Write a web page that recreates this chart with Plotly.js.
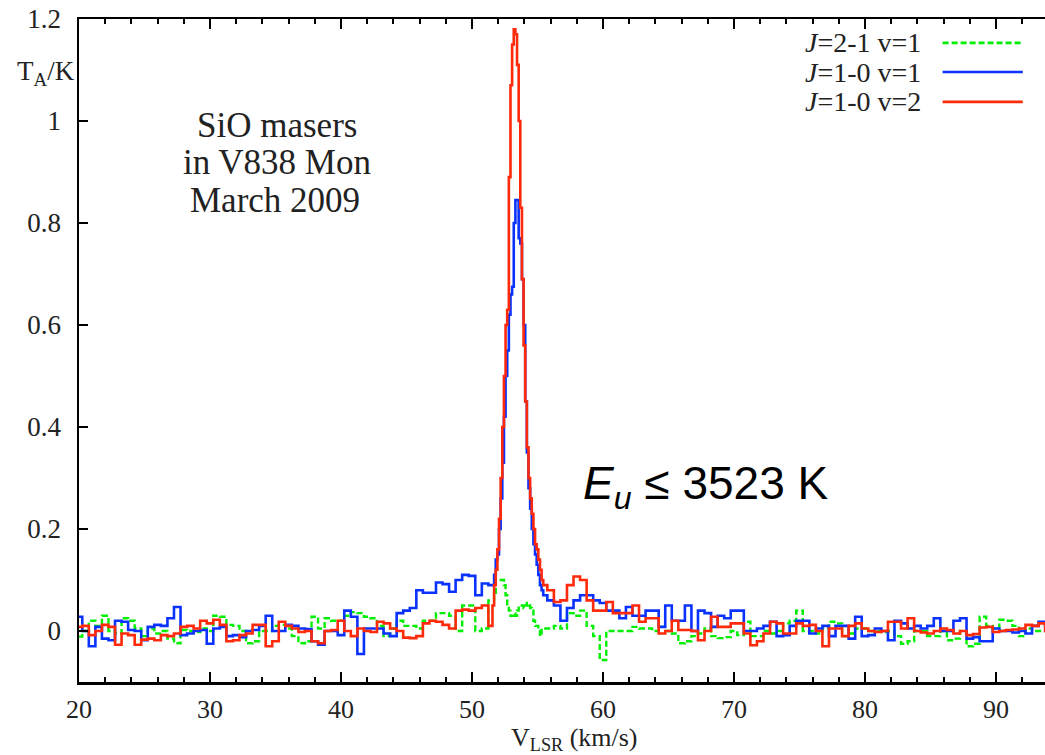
<!DOCTYPE html>
<html>
<head>
<meta charset="utf-8">
<script src="https://cdn.plot.ly/plotly-3.0.1.min.js"></script>
<style>html,body{margin:0;padding:0;background:#fff;}#chart{width:1045px;height:755px;}</style>
</head>
<body>
<div id="chart"></div>
<script>
// Velocity channel grid segments: [start, end, step] (km/s)
const velocitySegments = [[20, 51.5, 0.5], [51.625, 55.5, 0.125], [56, 94, 0.5]];

// J=2-1 v=1 (green, dashed)
const green_low = [
  -0.011, 0.0, 0.02, 0.01, 0.03, 0.0, -0.005, 0.025, 0.02, 0.005,
  -0.01, 0.005, -0.005, 0.0, -0.015, -0.024, 0.002, 0.0, -0.002, 0.005,
  0.0, 0.03, 0.028, 0.012, 0.01, 0.0, -0.024, -0.02, 0.0, 0.0,
  0.01, 0.012, 0.005, -0.01, -0.024, -0.02, 0.028, 0.005, 0.025, 0.02,
  0.02, 0.03, 0.037, 0.035, 0.028, 0.025, 0.01, -0.01, 0.005, 0.02,
  0.01, 0.01, 0.005, 0.02, 0.02, 0.035, 0.035, 0.03, 0.0, 0.05,
  0.05, 0.0, 0.005, 0.06];
const green_peak = [
  0.06, 0.07, 0.1, 0.1, 0.1, 0.1, 0.1, 0.09,
  0.07, 0.05, 0.04, 0.03, 0.03, 0.035, 0.03, 0.04,
  0.05, 0.05, 0.05, 0.045, 0.05, 0.055, 0.05, 0.045,
  0.04, 0.02, 0.01, 0.01, 0.0, -0.01, 0.005, 0.005];
const green_high = [
  0.005, 0.01, 0.005, 0.035, 0.03, 0.04, 0.01, -0.01, -0.057, 0.0,
  0.0, 0.0, 0.0, 0.008, 0.005, 0.005, 0.0, 0.008, 0.0, -0.005,
  -0.024, -0.02, -0.01, -0.005, 0.005, -0.01, -0.014, -0.012, 0.0, -0.008,
  0.018, -0.01, -0.01, 0.0, -0.005, 0.0, 0.015, 0.02, 0.04, 0.0,
  0.0, -0.005, 0.005, 0.018, 0.015, -0.01, -0.005, 0.005, 0.005, 0.0,
  0.0, -0.002, 0.0, -0.01, -0.025, -0.02, 0.0, 0.0, -0.01, -0.01,
  0.0, -0.018, -0.015, 0.0, -0.03, -0.025, 0.028, 0.01, 0.005, 0.022,
  0.02, 0.01, -0.01, 0.005, 0.0, 0.0, 0.005];

// J=1-0 v=1 (blue)
const blue_low = [
  0.028, 0.0, -0.03, 0.008, -0.015, -0.018, 0.02, 0.018, 0.002, 0.0,
  -0.018, 0.008, 0.012, 0.01, 0.025, 0.047, -0.008, -0.005, 0.0, 0.002,
  -0.025, 0.005, 0.008, -0.01, -0.008, -0.012, 0.0, 0.002, 0.01, 0.03,
  0.0, 0.0, 0.012, 0.01, 0.005, 0.004, -0.02, -0.027, 0.0, 0.0,
  -0.008, 0.04, 0.028, -0.045, 0.005, 0.005, 0.005, -0.005, -0.01, 0.035,
  0.04, 0.045, 0.08, 0.075, 0.075, 0.095, 0.092, 0.077, 0.1, 0.11,
  0.108, 0.07, 0.093, 0.09];
const blue_peak = [
  0.09, 0.11, 0.14, 0.15, 0.2, 0.26, 0.33, 0.42,
  0.5, 0.55, 0.62, 0.66, 0.675, 0.8, 0.845, 0.845,
  0.77, 0.76, 0.69, 0.6, 0.45, 0.35, 0.28, 0.24,
  0.2, 0.17, 0.15, 0.13, 0.11, 0.09, 0.08, 0.07];
const blue_high = [
  0.06, 0.05, 0.02, 0.045, 0.06, 0.07, 0.07, 0.06, 0.055, 0.04,
  0.04, 0.025, 0.047, 0.03, 0.03, 0.04, 0.04, 0.008, 0.05, 0.02,
  0.02, 0.05, 0.0, 0.04, 0.035, 0.008, 0.03, 0.025, 0.04, 0.04,
  0.0, 0.0, 0.005, 0.01, 0.018, -0.01, -0.008, 0.01, 0.02, 0.02,
  -0.005, 0.005, 0.01, -0.01, 0.01, 0.01, -0.015, 0.028, -0.01, -0.008,
  0.005, 0.0, -0.018, 0.02, 0.015, 0.005, 0.01, 0.005, 0.01, 0.025,
  0.0, 0.0, 0.02, 0.025, -0.015, -0.012, -0.02, -0.02, 0.005, 0.0,
  0.0, -0.003, 0.0, -0.005, 0.01, 0.018, 0.01];

// J=1-0 v=2 (red)
const red_low = [
  0.008, 0.01, -0.008, 0.0, 0.012, 0.008, -0.027, -0.005, -0.008, -0.027,
  -0.017, -0.015, -0.018, -0.008, -0.01, -0.005, 0.008, 0.01, 0.005, 0.02,
  0.015, 0.022, 0.012, -0.02, -0.018, -0.008, -0.005, 0.012, 0.012, -0.03,
  -0.02, 0.018, 0.01, 0.005, -0.002, 0.0, -0.02, -0.024, 0.0, 0.002,
  0.02, 0.0, -0.01, 0.005, 0.0, -0.002, 0.018, 0.015, 0.005, 0.0,
  -0.013, -0.014, -0.01, 0.015, 0.02, 0.018, 0.012, 0.005, 0.04, 0.042,
  0.04, 0.045, 0.05, 0.01];
const red_peak = [
  0.05, 0.09, 0.12, 0.16, 0.22, 0.3, 0.4, 0.5,
  0.6, 0.63, 0.89, 1.07, 1.15, 1.18, 1.17, 1.11,
  1.0, 0.83, 0.69, 0.56, 0.45, 0.36, 0.3, 0.26,
  0.23, 0.2, 0.17, 0.16, 0.14, 0.12, 0.1, 0.09];
const red_high = [
  0.08, 0.057, 0.06, 0.09, 0.107, 0.1, 0.06, 0.04, 0.04, 0.057,
  0.035, 0.035, 0.035, 0.05, 0.018, 0.025, 0.025, -0.005, 0.0, 0.02,
  0.002, 0.002, 0.0, -0.018, 0.0, 0.028, 0.008, 0.008, 0.015, 0.015,
  -0.005, -0.028, -0.02, -0.005, 0.018, 0.015, -0.005, -0.005, 0.015, 0.01,
  0.012, 0.0, -0.03, 0.005, 0.005, -0.01, 0.01, 0.015, 0.005, 0.0,
  -0.002, 0.0, 0.018, 0.018, 0.005, 0.025, 0.0, -0.003, -0.005, 0.0,
  0.005, 0.002, -0.005, 0.0, -0.008, -0.006, 0.007, 0.008, -0.002, 0.0,
  0.002, 0.003, 0.005, 0.012, 0.01, 0.015, 0.0];

const seriesNames = ['<i>J</i>=2-1 v=1', '<i>J</i>=1-0 v=1', '<i>J</i>=1-0 v=2'];
const xTicks = [20, 30, 40, 50, 60, 70, 80, 90];
const yTicks = [0, 0.2, 0.4, 0.6, 0.8, 1, 1.2];
const yTickText = ['0', '0.2', '0.4', '0.6', '0.8', '1', '1.2'];

// build channel velocities
const velocity = [];
velocitySegments.forEach(function (s) {
  const n = Math.round((s[1] - s[0]) / s[2]);
  for (let i = 0; i <= n; i++) velocity.push(+(s[0] + i * s[2]).toFixed(3));
});

const greenT = green_low.concat(green_peak, green_high);
const blueT = blue_low.concat(blue_peak, blue_high);
const redT = red_low.concat(red_peak, red_high);

const colors = ['#00ee00', '#0a32ff', '#ff2a0a'];
const serif = '"Liberation Serif", "DejaVu Serif", serif';
const sans = '"Liberation Sans", Arial, sans-serif';

const traces = [
  {x: velocity, y: greenT, name: seriesNames[0], mode: 'lines',
   line: {shape: 'hvh', color: colors[0], width: 2.4, dash: '6px,3px'}},
  {x: velocity, y: blueT, name: seriesNames[1], mode: 'lines',
   line: {shape: 'hvh', color: colors[1], width: 2.6}},
  {x: velocity, y: redT, name: seriesNames[2], mode: 'lines',
   line: {shape: 'hvh', color: colors[2], width: 2.6}}
];

// manual legend (text left, line sample right) in paper coords
const legendRows = [0.964, 0.920, 0.875];
const legendTextX = 0.874;
const legendLine = [0.894, 0.977];

const annotations = [
  {text: 'SiO masers', x: 0.205, y: 0.839, xref: 'paper', yref: 'paper', showarrow: false,
   xanchor: 'center', yanchor: 'middle', font: {family: serif, size: 35, color: '#222'}},
  {text: 'in V838 Mon', x: 0.205, y: 0.784, xref: 'paper', yref: 'paper', showarrow: false,
   xanchor: 'center', yanchor: 'middle', font: {family: serif, size: 35, color: '#222'}},
  {text: 'March 2009', x: 0.203, y: 0.726, xref: 'paper', yref: 'paper', showarrow: false,
   xanchor: 'center', yanchor: 'middle', font: {family: serif, size: 35, color: '#222'}},
  {text: '<i>E</i><sub><i>u</i></sub> ≤ 3523 K', x: 0.52, y: 0.295, xref: 'paper', yref: 'paper', showarrow: false,
   xanchor: 'left', yanchor: 'middle', font: {family: sans, size: 46, color: '#000'}},
  {text: 'T<sub>A</sub>/K', x: -0.002, y: 0.918, xref: 'paper', yref: 'paper', showarrow: false,
   xanchor: 'right', yanchor: 'middle', font: {family: serif, size: 27, color: '#222'}},
  {text: 'V<sub>LSR</sub> (km/s)', x: 0.513, y: -0.086, xref: 'paper', yref: 'paper', showarrow: false,
   xanchor: 'center', yanchor: 'middle', font: {family: serif, size: 26, color: '#222'}}
];
const shapes = [];
for (let i = 0; i < 3; i++) {
  annotations.push({text: seriesNames[i], x: legendTextX, y: legendRows[i], xref: 'paper', yref: 'paper',
    showarrow: false, xanchor: 'right', yanchor: 'middle', font: {family: serif, size: 28, color: '#222'}});
  shapes.push({type: 'line', xref: 'paper', yref: 'paper', x0: legendLine[0], x1: legendLine[1],
    y0: legendRows[i], y1: legendRows[i],
    line: {color: colors[i], width: 2.6, dash: i === 0 ? '6px,3px' : 'solid'}});
}

const layout = {
  width: 1045, height: 755,
  margin: {l: 79, r: 0, t: 19, b: 73, pad: 0},
  paper_bgcolor: '#fff', plot_bgcolor: '#fff',
  showlegend: false,
  xaxis: {
    range: [20, 93.74], tickvals: xTicks, ticks: 'inside', ticklen: 10, tickwidth: 2, tickcolor: '#000',
    minor: {dtick: 2, tick0: 20, ticks: 'inside', ticklen: 5, tickwidth: 2, tickcolor: '#000', showgrid: false},
    showline: true, linecolor: '#000', linewidth: 2.5, mirror: 'ticks',
    showgrid: false, zeroline: false, ticklabelstandoff: 2,
    tickfont: {family: serif, size: 26, color: '#222'}
  },
  yaxis: {
    range: [-0.1, 1.2], tickvals: yTicks, ticktext: yTickText, ticks: 'inside', ticklen: 9, tickwidth: 2, tickcolor: '#000',
    showline: true, linecolor: '#000', linewidth: 2.5, mirror: false,
    showgrid: false, zeroline: false, ticklabelstandoff: 10,
    tickfont: {family: serif, size: 27, color: '#222'}
  },
  annotations: annotations,
  shapes: shapes
};

Plotly.newPlot('chart', traces, layout, {staticPlot: true, displayModeBar: false});
</script>
</body>
</html>
